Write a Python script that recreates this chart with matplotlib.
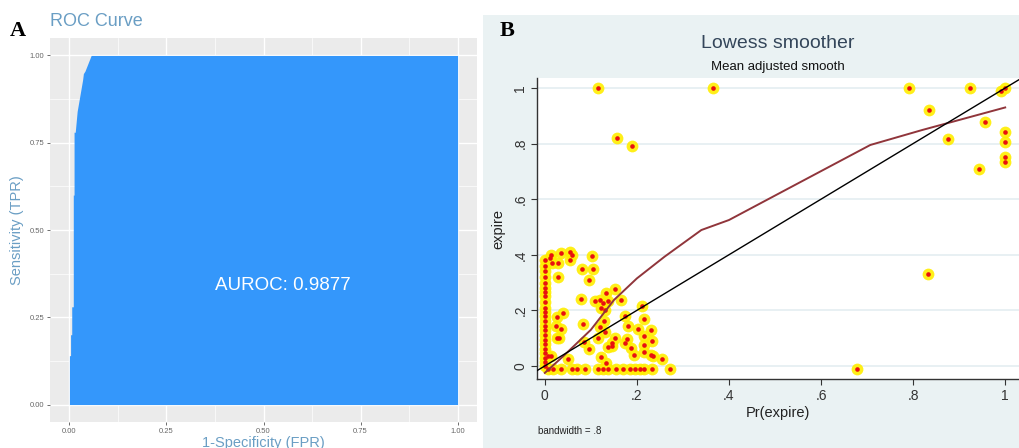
import matplotlib
matplotlib.use("Agg")
import matplotlib.pyplot as plt
from matplotlib.patches import Rectangle
import numpy as np

# ---------------- Panel A data (ROC curve) ----------------
roc_fpr = [0.0, 0.0, 0.003, 0.003, 0.006, 0.006, 0.010, 0.010, 0.012, 0.012,
           0.015, 0.020, 0.034, 0.036, 0.040, 0.056, 1.0]
roc_tpr = [0.0, 0.14, 0.14, 0.20, 0.20, 0.28, 0.28, 0.60, 0.60, 0.78,
           0.78, 0.84, 0.93, 0.948, 0.955, 1.0, 1.0]
roc_ticks = [0.0, 0.25, 0.50, 0.75, 1.00]
roc_ticklabels = ["0.00", "0.25", "0.50", "0.75", "1.00"]
auroc_label = "AUROC: 0.9877"

# ---------------- Panel B data (lowess calibration) ----------------
# column of points at predicted probability 0
col0_y = [0.0, 0.015, 0.03, 0.045, 0.06, 0.08, 0.095, 0.11, 0.13, 0.145, 0.16,
          0.18, 0.195, 0.21, 0.23, 0.25, 0.265, 0.28, 0.30, 0.32, 0.34, 0.36, 0.38]
# row of points at observed ~ -0.012
row_x = [0.007, 0.018, 0.035, 0.058, 0.070, 0.087, 0.116, 0.127, 0.138, 0.154,
         0.170, 0.185, 0.196, 0.207, 0.215, 0.232, 0.272, 0.678]
row_y_val = -0.012
# remaining scattered points
pts_x = [0.011, 0.014, 0.015, 0.028, 0.035, 0.029, 0.054, 0.060, 0.054, 0.103,
         0.105, 0.080, 0.096, 0.078, 0.108, 0.119, 0.132, 0.152, 0.166, 0.123,
         0.127, 0.138, 0.130, 0.039, 0.026, 0.024, 0.035, 0.026, 0.031, 0.083,
         0.085, 0.096, 0.119, 0.128, 0.130, 0.116, 0.123, 0.132, 0.138, 0.146,
         0.152, 0.145, 0.174, 0.181, 0.179, 0.174, 0.188, 0.194, 0.210, 0.215,
         0.203, 0.215, 0.215, 0.215, 0.230, 0.233, 0.230, 0.234, 0.255, 0.051,
         0.007, 0.014, 0.833,
         0.116, 0.366, 0.157, 0.190, 0.790, 0.835, 0.924, 0.875, 0.957, 0.943,
         0.990, 1.000, 1.000, 1.000, 1.000, 1.000]
pts_y = [0.390, 0.400, 0.370, 0.370, 0.405, 0.320, 0.410, 0.400, 0.380, 0.397,
         0.350, 0.350, 0.310, 0.240, 0.235, 0.237, 0.264, 0.276, 0.236, 0.207,
         0.225, 0.232, 0.200, 0.192, 0.176, 0.142, 0.132, 0.100, 0.100, 0.150,
         0.087, 0.060, 0.141, 0.162, 0.123, 0.100, 0.031, 0.012, 0.067, 0.072,
         0.100, 0.084, 0.180, 0.142, 0.096, 0.082, 0.066, 0.040, 0.216, 0.170,
         0.132, 0.107, 0.076, 0.050, 0.128, 0.088, 0.040, 0.034, 0.026, 0.026,
         0.035, 0.035, 0.330,
         1.000, 1.000, 0.819, 0.790, 1.000, 0.920, 1.000, 0.815, 0.877, 0.707,
         0.990, 1.000, 0.843, 0.807, 0.750, 0.735]
lowess_x = [0.0, 0.04, 0.10, 0.15, 0.20, 0.26, 0.34, 0.40, 0.55, 0.707, 0.82, 1.0]
lowess_y = [-0.025, 0.035, 0.13, 0.237, 0.315, 0.393, 0.489, 0.525, 0.657, 0.795, 0.849, 0.93]
ref_line = [-0.05, 1.05]
b_ticks = [0, 0.2, 0.4, 0.6, 0.8, 1.0]
b_ticklabels = ["0", ".2", ".4", ".6", ".8", "1"]

W, H = 1019, 448
fig = plt.figure(figsize=(W / 100, H / 100), dpi=100)
fig.patch.set_facecolor("white")

def fx(px):
    return px / W

def fy(py):
    return 1 - py / H

SANS = ["Liberation Sans", "DejaVu Sans"]
SERIF = ["Liberation Serif", "DejaVu Serif"]

# ---------------- Panel B background ----------------
bg = Rectangle((fx(483), 0), 1 - fx(483), fy(15), transform=fig.transFigure,
               facecolor="#eaf2f3", edgecolor="none", zorder=-10)
fig.patches.append(bg)

# ---------------- Panel A ----------------
axA = fig.add_axes([fx(50), fy(422), (477 - 50) / W, (422 - 38) / H])
axA.set_zorder(1)
axA.set_facecolor("#ebebeb")
axA.set_xlim(-0.05, 1.05)
axA.set_ylim(-0.05, 1.05)
minor = [0.125, 0.375, 0.625, 0.875]
for v in minor:
    axA.axvline(v, color="white", lw=0.5, zorder=0)
    axA.axhline(v, color="white", lw=0.5, zorder=0)
for v in roc_ticks:
    axA.axvline(v, color="white", lw=1.0, zorder=0)
    axA.axhline(v, color="white", lw=1.0, zorder=0)
axA.fill_between(roc_fpr, roc_tpr, 0, color="#3497fb", lw=0, zorder=2)
axA.text(0.55, 0.34, auroc_label, color="white", fontsize=13.5, family=SANS,
         ha="center", va="center", zorder=3)
axA.set_xticks(roc_ticks)
axA.set_xticklabels(roc_ticklabels)
axA.set_yticks(roc_ticks)
axA.set_yticklabels(roc_ticklabels)
axA.tick_params(axis="both", length=2, width=0.6, color="#555555",
                labelsize=5.5, labelcolor="#666666", pad=2)
for sp in axA.spines.values():
    sp.set_visible(False)
for lab in axA.get_xticklabels() + axA.get_yticklabels():
    lab.set_family(SANS)
axA.set_xlabel("1-Specificity (FPR)", color="#6a9ec4", fontsize=10.5, family=SANS, labelpad=1)
axA.set_ylabel("Sensitivity (TPR)", color="#6a9ec4", fontsize=10.5, family=SANS, labelpad=4)
fig.text(fx(50), fy(26), "ROC Curve", color="#6a9ec4", fontsize=13, family=SANS,
         ha="left", va="baseline")
fig.text(fx(10), fy(36), "A", color="black", fontsize=16, family=SERIF,
         fontweight="bold", ha="left", va="baseline")

# ---------------- Panel B ----------------
axB = fig.add_axes([fx(537), fy(379), (W - 537) / W, (379 - 78) / H])
axB.set_zorder(1)
axB.set_facecolor("white")
axB.set_xlim(-0.017, 1.03)
axB.set_ylim(-0.047, 1.036)
for v in b_ticks:
    axB.axhline(v, color="#e4edf1", lw=1.2, zorder=0)

sx = list(np.zeros(len(col0_y))) + row_x + pts_x
sy = col0_y + [row_y_val] * len(row_x) + pts_y
axB.scatter(sx, sy, s=72, color="#ffee00", alpha=0.9, lw=0, zorder=2, clip_on=False)
axB.scatter(sx, sy, s=11, color="#e8100f", lw=0, zorder=3, clip_on=False)
axB.plot(lowess_x, lowess_y, color="#90353b", lw=1.4, zorder=4)
axB.plot(ref_line, ref_line, color="black", lw=1.0, zorder=4)

axB.set_xticks(b_ticks)
axB.set_xticklabels(b_ticklabels)
axB.set_yticks(b_ticks)
axB.set_yticklabels(b_ticklabels, rotation=90, va="center")
axB.tick_params(axis="both", length=4, width=0.8, color="#333333",
                labelsize=10, labelcolor="#333333", pad=3)
for lab in axB.get_xticklabels() + axB.get_yticklabels():
    lab.set_family(SANS)
for s in ["top", "right"]:
    axB.spines[s].set_visible(False)
for s in ["left", "bottom"]:
    axB.spines[s].set_color("#333333")
    axB.spines[s].set_linewidth(1.0)
axB.set_xlabel("Pr(expire)", fontsize=10.5, family=SANS, color="#222222", labelpad=2)
axB.set_ylabel("expire", fontsize=10.5, family=SANS, color="#222222", labelpad=6)

fig.text(fx(778), fy(48), "Lowess smoother", color="#34465a", fontsize=14,
         family=SANS, ha="center", va="baseline")
fig.text(fx(778), fy(70), "Mean adjusted smooth", color="#111111", fontsize=9.5,
         family=SANS, ha="center", va="baseline")
fig.text(fx(538), fy(434), "bandwidth = .8", color="#222222", fontsize=7,
         family=SANS, ha="left", va="baseline")
fig.text(fx(500), fy(36), "B", color="black", fontsize=16, family=SERIF,
         fontweight="bold", ha="left", va="baseline")

fig.savefig("out.png", dpi=100)
